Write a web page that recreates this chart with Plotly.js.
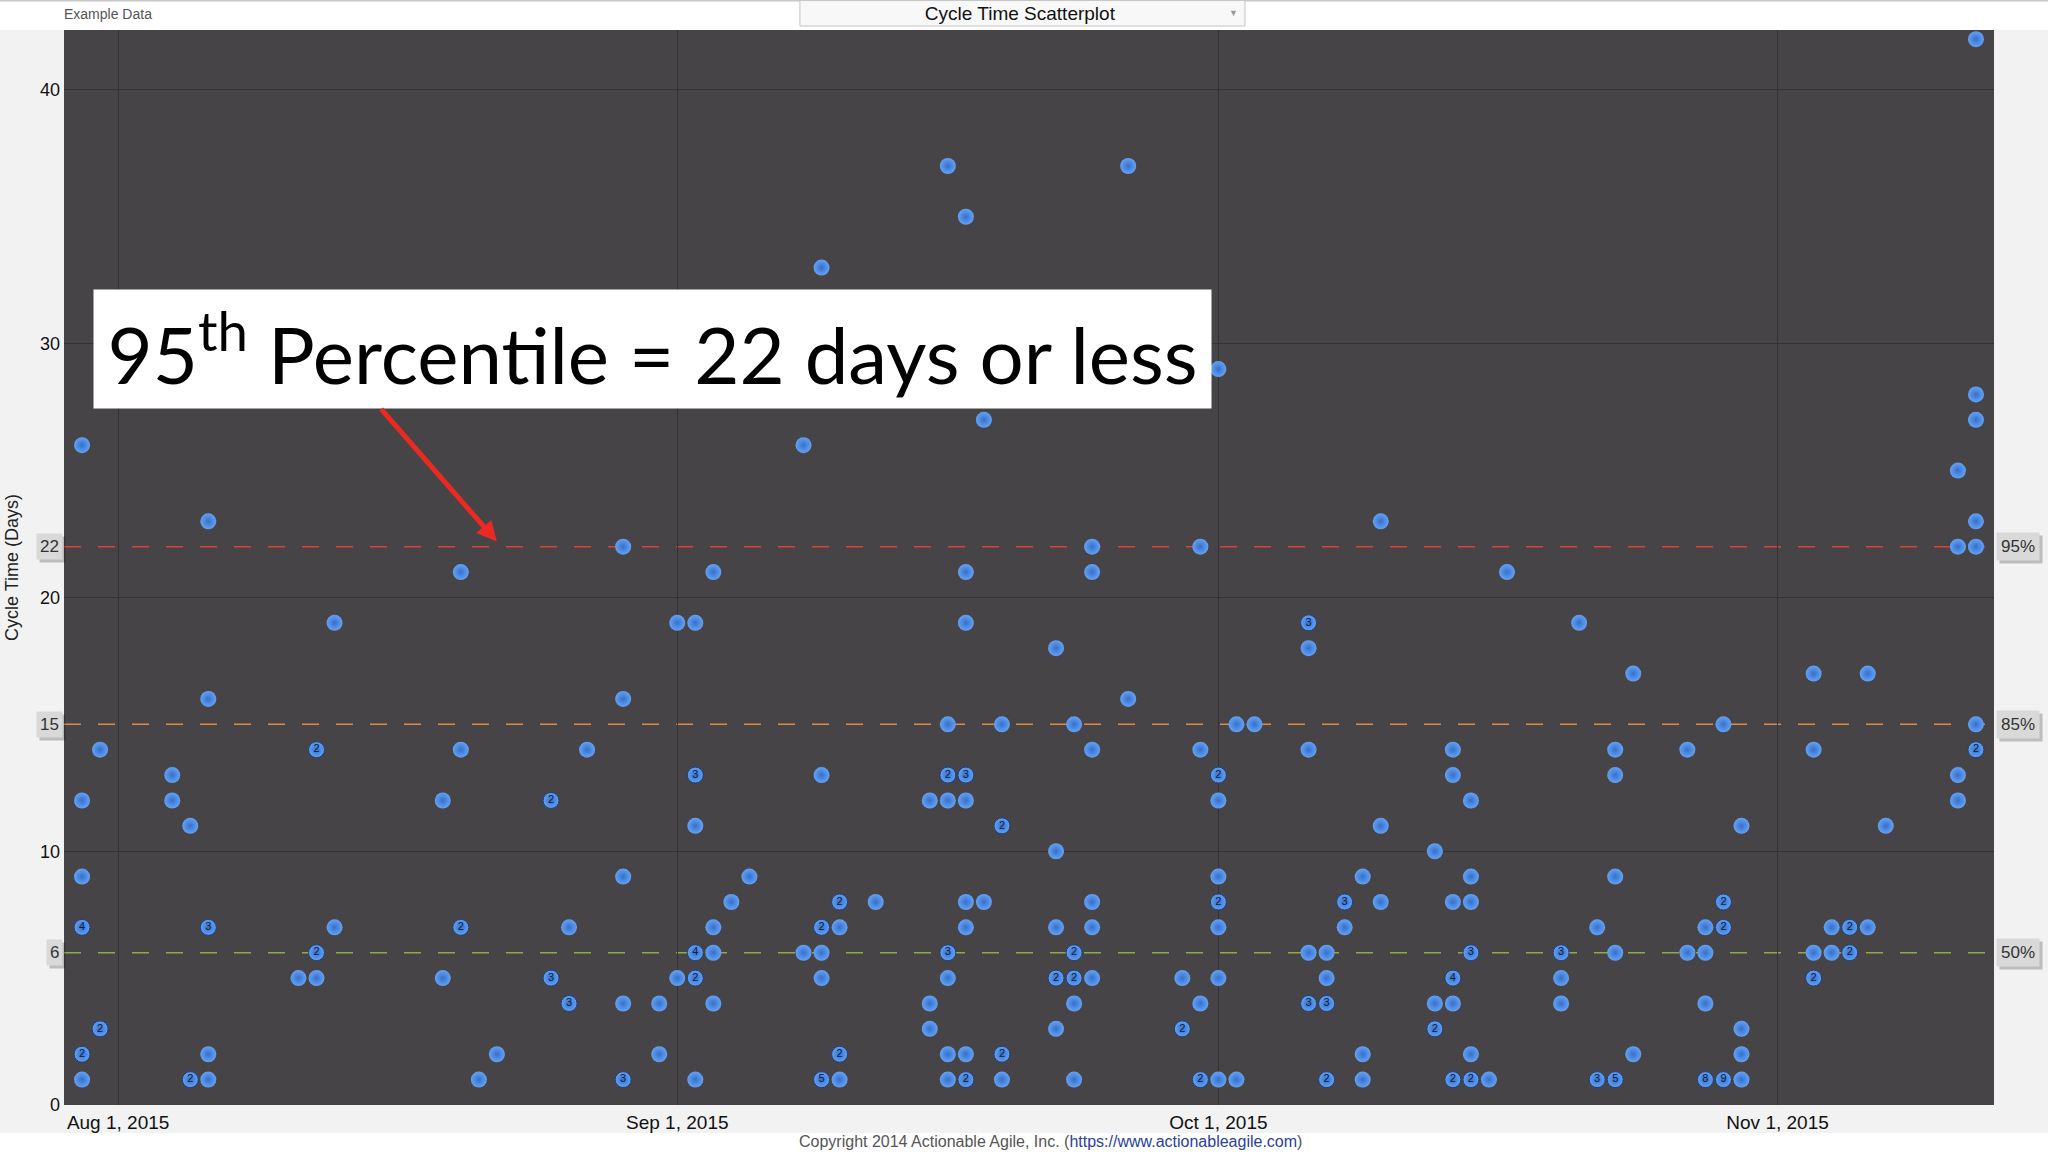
<!DOCTYPE html>
<html>
<head>
<meta charset="utf-8">
<script src="https://cdn.plot.ly/plotly-3.0.1.min.js"></script>
<style>
  html, body { margin: 0; padding: 0; background: #f2f2f2; }
  #chart { width: 2048px; height: 1152px; }
</style>
</head>
<body>
<div id="chart"></div>
<script>
// ---- Data (one entry per day with completed items) ----
const days = [
  '2015-07-30','2015-07-31','2015-08-04','2015-08-05','2015-08-06','2015-08-11','2015-08-12','2015-08-13',
  '2015-08-19','2015-08-20','2015-08-21','2015-08-22','2015-08-25','2015-08-26','2015-08-27','2015-08-29',
  '2015-08-31','2015-09-01','2015-09-02','2015-09-03','2015-09-04','2015-09-05','2015-09-08','2015-09-09',
  '2015-09-10','2015-09-12','2015-09-15','2015-09-16','2015-09-17','2015-09-18','2015-09-19','2015-09-22',
  '2015-09-23','2015-09-24','2015-09-26','2015-09-29','2015-09-30','2015-10-01','2015-10-02','2015-10-03',
  '2015-10-06','2015-10-07','2015-10-08','2015-10-09','2015-10-10','2015-10-13','2015-10-14','2015-10-15',
  '2015-10-16','2015-10-17','2015-10-20','2015-10-21','2015-10-22','2015-10-23','2015-10-24','2015-10-27',
  '2015-10-28','2015-10-29','2015-10-30','2015-11-03','2015-11-04','2015-11-05','2015-11-06','2015-11-07',
  '2015-11-11','2015-11-12'
];
// cycle time (days) of the dots drawn on each day
const cycleTimesByDay = [
  [26,12,9,7,2,1],[14,3],[13,12],[11,1],[23,16,7,2,1],[5],[14,6,5],[19,7],
  [12,5],[21,14,7],[1],[2],[12,5],[7,4],[14],[22,16,9,4,1],
  [4,2],[19,5],[19,13,11,6,5,1],[21,7,6,4],[8],[9],[26,6],[33,13,7,6,5,1],
  [8,7,2,1],[8],[12,4,3],[37,15,13,12,6,5,2,1],[35,21,19,13,12,8,7,2,1],[27,8],[15,11,2,1],[18,10,7,5,3],
  [15,6,5,4,1],[22,21,14,8,7,5],[37,16],[5,3],[22,14,4,1],[29,13,12,9,8,7,5,1],[15,1],[15],
  [19,18,14,6,4],[6,5,4,1],[8,7],[9,2,1],[23,11,8],[10,4,3],[14,13,8,5,4,1],[12,9,8,6,2,1],
  [1],[21],[6,5,4],[19],[7,1],[14,13,9,6,1],[17,2],[14,6],
  [7,6,4,1],[15,8,7,1],[11,3,2,1],[17,14,6,5],[7,6],[7,6],[17,7],[11],
  [25,22,13,12],[42,28,27,23,22,15,14]
];
// number of items stacked in each dot (shown as the label inside the dot when > 1)
const itemCountsByDay = [
  [1,1,1,4,2,1],[1,2],[1,1],[1,2],[1,1,3,1,1],[1],[2,2,1],[1,1],
  [1,1],[1,1,2],[1],[1],[2,3],[1,3],[1],[1,1,1,1,3],
  [1,1],[1,1],[1,3,1,4,2,1],[1,1,1,1],[1],[1],[1,1],[1,1,2,1,1,5],
  [2,1,2,1],[1],[1,1,1],[1,1,2,1,3,1,1,1],[1,1,1,3,1,1,1,1,2],[1,1],[1,2,2,1],[1,1,1,2,1],
  [1,2,2,1,1],[1,1,1,1,1,1],[1,1],[1,2],[1,1,1,2],[1,2,1,1,2,1,1,1],[1,1],[1],
  [3,1,1,1,3],[1,1,3,2],[3,1],[1,1,1],[1,1,1],[1,1,2],[1,1,1,4,1,2],[1,1,1,3,1,2],
  [1],[1],[3,1,1],[1],[1,3],[1,1,1,1,5],[1,1],[1,1],
  [1,1,1,8],[1,2,2,9],[1,1,1,1],[1,1,1,2],[1,1],[2,2],[1,1],[1],
  [1,1,1,1],[1,1,1,1,1,1,2]
];
const percentileValues = [22, 15, 6];
const percentileNames  = ['95%', '85%', '50%'];
const percentileColors = ['#d8423a', '#d98c48', '#8fac3e'];
const tickDates  = ['2015-08-01','2015-09-01','2015-10-01','2015-11-01'];
const tickLabels = ['Aug 1, 2015','Sep 1, 2015','Oct 1, 2015','Nov 1, 2015'];
const yTicks = [0, 10, 20, 30, 40];

// ---- Flatten to points ----
const xs = [], ys = [], labels = [], lineW = [];
days.forEach((d, i) => {
  cycleTimesByDay[i].forEach((v, j) => {
    const c = itemCountsByDay[i][j];
    xs.push(d); ys.push(v);
    labels.push(c > 1 ? String(c) : '');
    lineW.push(c > 1 ? 1 : 0);
  });
});

const FONT = 'Liberation Sans, Arial, sans-serif';

const trace = {
  type: 'scatter', mode: 'markers+text',
  x: xs, y: ys, text: labels,
  textposition: 'middle center',
  textfont: { family: FONT, size: 11, color: '#0e1d3d' },
  marker: {
    size: 16, color: '#64a2f4',
    gradient: { type: 'radial', color: '#3570cc' },
    line: { width: lineW, color: '#1d3f7a' }
  },
  hoverinfo: 'x+y', cliponaxis: false
};

const shapes = [
  // white top bar
  { type: 'rect', xref: 'paper', yref: 'paper', x0: -0.04, x1: 1.04, y0: 1, y1: 1.03,
    fillcolor: '#ffffff', line: { width: 0 }, layer: 'below' },
  { type: 'line', xref: 'paper', yref: 'paper', x0: -0.04, x1: 1.04, y0: 1.0275, y1: 1.0275,
    line: { color: '#c8c8c8', width: 2 }, layer: 'below' },
  // white strip at bottom
  { type: 'rect', xref: 'paper', yref: 'paper', x0: -0.04, x1: 1.04, y0: -0.05, y1: -0.026,
    fillcolor: '#ffffff', line: { width: 0 }, layer: 'below' },
  // dropdown box
  { type: 'rect', xref: 'paper', yref: 'paper', x0: 0.3813, x1: 0.6119, y0: 1.0037, y1: 1.0275,
    fillcolor: '#f8f8f8', line: { color: '#c4c4c4', width: 1 }, layer: 'below' }
];
percentileValues.forEach((v, i) => {
  shapes.push({ type: 'line', xref: 'paper', x0: 0, x1: 1, yref: 'y', y0: v, y1: v,
    line: { color: percentileColors[i], width: 1.5, dash: '17px,17px' }, layer: 'between' });
});

const annotations = [];
percentileValues.forEach((v, i) => {
  // shadows
  annotations.push({ xref: 'paper', x: 0, xanchor: 'right', xshift: 2, yref: 'y', y: v, yshift: -3,
    text: String(v), showarrow: false, bgcolor: 'rgba(0,0,0,0.22)', borderpad: 3,
    font: { family: FONT, size: 17, color: 'rgba(0,0,0,0)' } });
  annotations.push({ xref: 'paper', x: 1, xanchor: 'left', xshift: 5, yref: 'y', y: v, yshift: -3,
    text: percentileNames[i], showarrow: false, bgcolor: 'rgba(0,0,0,0.22)', borderpad: 4,
    font: { family: FONT, size: 17, color: 'rgba(0,0,0,0)' } });
  // boxes
  annotations.push({ xref: 'paper', x: 0, xanchor: 'right', xshift: -1, yref: 'y', y: v,
    text: String(v), showarrow: false, bgcolor: '#d9d9d9', borderpad: 3,
    font: { family: FONT, size: 17, color: '#333333' } });
  annotations.push({ xref: 'paper', x: 1, xanchor: 'left', xshift: 2, yref: 'y', y: v,
    text: percentileNames[i], showarrow: false, bgcolor: '#d9d9d9', borderpad: 4,
    font: { family: FONT, size: 17, color: '#333333' } });
});
annotations.push(
  { xref: 'paper', yref: 'paper', x: -0.0012, y: 1.0149, xanchor: 'left', yanchor: 'middle',
    text: 'Example Data', showarrow: false, font: { family: FONT, size: 14, color: '#555555' } },
  { xref: 'paper', yref: 'paper', x: 0.6057, y: 1.0155, xanchor: 'center', yanchor: 'middle',
    text: '▼', showarrow: false, font: { family: FONT, size: 9, color: '#999999' } },
  { xref: 'paper', yref: 'paper', x: 0.5109, y: -0.0344, xanchor: 'center', yanchor: 'middle',
    text: 'Copyright 2014 Actionable Agile, Inc. (<a href="https://www.actionableagile.com" style="color:#2a3f9e">https://www.actionableagile.com</a>)',
    showarrow: false, font: { family: FONT, size: 16, color: '#555555' } },
  // the callout box
  { xref: 'paper', yref: 'paper', x: 0.3049, y: 0.7033, xanchor: 'center', yanchor: 'middle',
    text: '95<sup>th</sup> Percentile = 22 days or less', showarrow: false,
    bgcolor: '#ffffff', borderpad: 0, width: 1117, height: 118, yshift: 0,
    font: { family: 'Lato, Carlito, sans-serif', size: 78, color: '#000000' } },
  // red arrow
  { xref: 'x', yref: 'y', x: '2015-08-22', y: 22.2, ax: -117, ay: -134, text: '',
    showarrow: true, arrowhead: 2, arrowsize: 0.8, arrowwidth: 5, arrowcolor: '#ea2a22' }
);

const layout = {
  width: 2048, height: 1152,
  margin: { l: 64, r: 54, t: 30, b: 47, pad: 0 },
  paper_bgcolor: '#f2f2f2',
  plot_bgcolor: '#464446',
  showlegend: false,
  title: { text: 'Cycle Time Scatterplot', x: 0.498, xref: 'container', y: 0.9887, yref: 'container',
    xanchor: 'center', yanchor: 'middle', font: { family: FONT, size: 19, color: '#111111' } },
  xaxis: {
    type: 'date', range: ['2015-07-29', '2015-11-13'],
    tickmode: 'array', tickvals: tickDates, ticktext: tickLabels,
    showgrid: true, gridcolor: '#343234', gridwidth: 1,
    zeroline: false, showline: false, ticks: '',
    tickfont: { family: FONT, size: 19, color: '#111111' }, ticklabelstandoff: 4
  },
  yaxis: {
    range: [0, 42.36], tickmode: 'array', tickvals: yTicks,
    showgrid: true, gridcolor: '#343234', gridwidth: 1,
    zeroline: false, showline: false, ticks: '',
    tickfont: { family: FONT, size: 18, color: '#111111' }, ticklabelstandoff: 3,
    title: { text: 'Cycle Time (Days)', font: { family: FONT, size: 18, color: '#222222' }, standoff: 16 }
  },
  shapes: shapes,
  annotations: annotations
};

Plotly.newPlot('chart', [trace], layout, { displayModeBar: false });
</script>
</body>
</html>
